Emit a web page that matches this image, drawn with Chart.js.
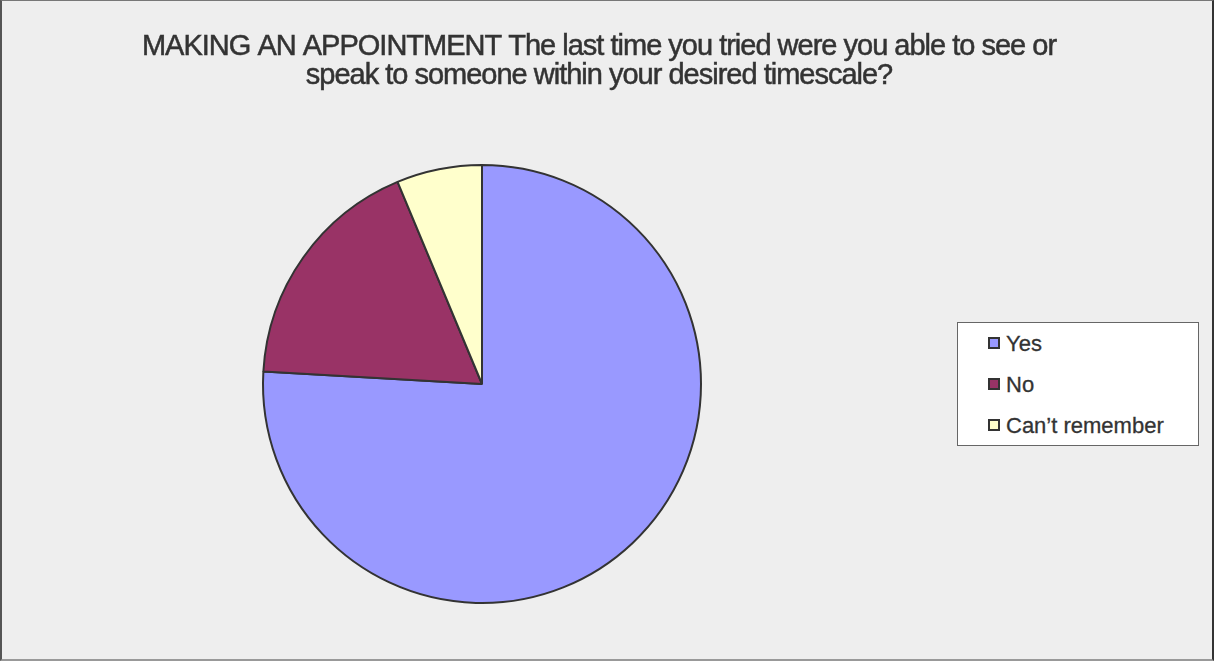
<!DOCTYPE html>
<html>
<head>
<meta charset="utf-8">
<script src="https://cdn.jsdelivr.net/npm/chart.js@4/dist/chart.umd.min.js"></script>
<style>
  html, body { margin: 0; padding: 0; background: #eeeeee; }
  #wrap { position: relative; width: 1214px; height: 661px; box-sizing: border-box;
          border-left: 2px solid #555; border-top: 1px solid #777;
          border-right: 2px solid #333; border-bottom: 2px solid #999; }
  #grafica { position: absolute; left: 0; top: 0; }
  #leyenda { position: absolute; left: 955px; top: 321px; width: 242px; height: 124px;
             box-sizing: border-box; background: #fff; border: 1px solid #666;
             font-family: "Liberation Sans", Arial, sans-serif; font-size: 22px; color: #333;
             -webkit-text-stroke: 0.3px #333; }
  #leyenda div { position: absolute; left: 30px; height: 26px; line-height: 26px; }
  #leyenda span { display: inline-block; width: 8px; height: 8px; border: 2px solid #333;
                  margin-right: 6px; vertical-align: 2px; }
</style>
</head>
<body>
<div id="wrap">
  <canvas id="grafica" width="1210" height="658"></canvas>
  <div id="leyenda"></div>
</div>
<script>
const $grafica = document.querySelector("#grafica");

const titulo = ["MAKING AN APPOINTMENT The last time you tried were you able to see or",
                "speak to someone within your desired timescale?"];
const etiquetas = ["Yes", "No", "Can\u2019t remember"];
const valores = [75.9, 17.8, 6.3];
const colores = ['#9999ff', '#993366', '#ffffcc'];

// titulo dibujado a mano para poder centrarlo en todo el lienzo
const pluginTitulo = {
    id: 'titulo',
    afterDraw(chart) {
        const ctx = chart.ctx;
        ctx.save();
        ctx.font = '29px "Liberation Sans", Arial, sans-serif';
        ctx.letterSpacing = '-1px';
        ctx.fillStyle = '#333333';
        ctx.strokeStyle = '#333333';
        ctx.lineWidth = 0.5;
        ctx.textAlign = 'center';
        ctx.textBaseline = 'alphabetic';
        titulo.forEach((linea, i) => {
            ctx.fillText(linea, 597, 54 + i * 29);
            ctx.strokeText(linea, 597, 54 + i * 29);
        });
        ctx.restore();
    }
};

new Chart($grafica, {
    type: 'pie',
    data: {
        labels: etiquetas,
        datasets: [{
            data: valores,
            backgroundColor: colores,
            borderColor: '#333333',
            borderWidth: 2,
            hoverOffset: 0,
        }]
    },
    options: {
        responsive: false,
        animation: false,
        layout: { padding: { left: 260, right: 510, top: 163, bottom: 55 } },
        plugins: {
            legend: { display: false },
            tooltip: { enabled: false },
            title: { display: false },
        },
    },
    plugins: [pluginTitulo],
});

const $leyenda = document.querySelector("#leyenda");
etiquetas.forEach((txt, i) => {
    const fila = document.createElement('div');
    fila.style.top = (8 + i * 41) + 'px';
    fila.innerHTML = '<span style="background:' + colores[i] + '"></span>' + txt;
    $leyenda.appendChild(fila);
});
</script>
</body>
</html>
